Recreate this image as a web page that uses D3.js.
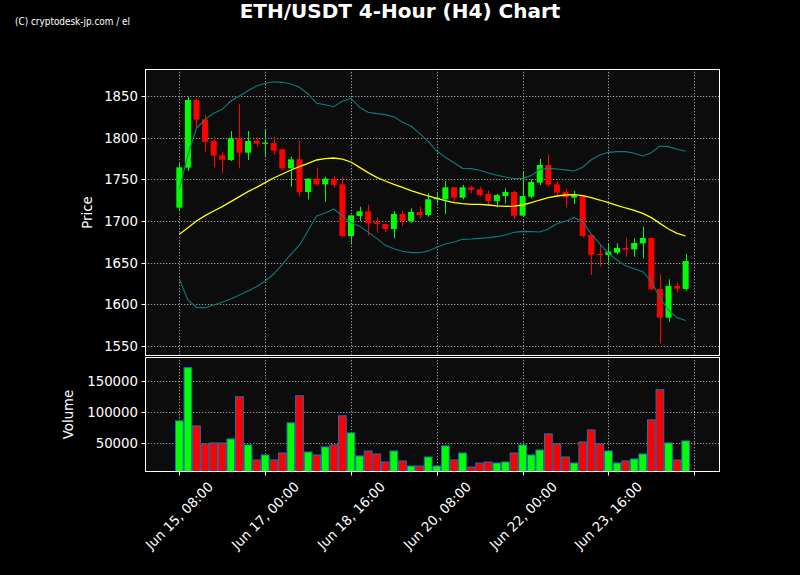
<!DOCTYPE html>
<html><head><meta charset="utf-8">
<script src="https://cdn.jsdelivr.net/npm/d3@7/dist/d3.min.js"></script>
<style>
html,body{margin:0;padding:0;background:#000;}
svg{display:block;}
text{font-family:"DejaVu Sans",sans-serif;fill:#fff;}
</style></head>
<body>
<svg id="chart" width="800" height="575"></svg>
<script>
const opens = [1716,1764,1845.2,1822,1796,1778.8,1773.2,1799.2,1782,1796.4,1793,1793.6,1786,1763.2,1774,1734.8,1750.8,1744,1750.8,1744,1682,1706,1711.6,1698.4,1696.4,1690.4,1708.4,1700,1710.8,1707.2,1726,1726,1740.4,1728,1740.4,1738,1732.4,1724,1730,1734.8,1706.4,1729.2,1746,1767.2,1744,1735.2,1728,1730,1683.2,1660.4,1659.2,1662,1667.6,1666,1673.2,1679.6,1618.4,1584,1622,1618.4];
const highs = [1769.2,1849.2,1847.2,1827.2,1801.2,1782.4,1808,1840.4,1808,1800.4,1810,1801.2,1786.8,1777.2,1796,1751.6,1764,1753.2,1754,1753.2,1706.8,1717.2,1719.6,1704,1696.4,1712,1712,1715.2,1717.2,1733.2,1733.2,1748,1740.4,1743.2,1742,1741.2,1736.4,1732.4,1739.2,1736,1760,1750,1774.4,1780,1748,1739.2,1736,1731.2,1683.2,1671.2,1672.4,1673.2,1680,1679.2,1693.2,1680.4,1636,1630,1626.4,1660.4];
const lows = [1712,1760,1811.2,1782.4,1764.4,1757.2,1772,1763.2,1773.2,1789.2,1778,1779.2,1761.2,1741.2,1729.2,1726,1742,1723.2,1740,1680,1672,1700,1682.8,1686,1686.8,1679.2,1694,1698,1703.2,1705.2,1721.2,1708.4,1723.2,1726,1733.2,1729.2,1719.2,1716.4,1721.2,1702,1706,1727.2,1743.2,1741.2,1731.2,1716.4,1720.4,1680.4,1635.2,1645.2,1649.2,1660,1657.2,1657.2,1655.2,1617.2,1553.2,1579.2,1614.4,1616.4];
const closes = [1764.4,1845.2,1821.6,1795.2,1778.4,1773.6,1799.2,1782,1796,1792.8,1794,1784.4,1763.2,1774,1734.8,1750.8,1744,1750.8,1743.2,1682,1706.8,1711.6,1697.6,1696.4,1690.4,1708.4,1700,1710.8,1707.2,1726,1728,1740.4,1728,1740.4,1737.2,1731.2,1724,1731.2,1734.8,1706.4,1730,1746.8,1767.2,1743.6,1734,1728.4,1730.8,1682,1659.6,1659.6,1663.2,1667.6,1665.6,1673.6,1679.6,1618,1584,1622,1618.8,1652];
const volumes = [85400,170600,77300,48400,50000,50000,56400,124000,46800,22700,30700,22700,33900,82200,125600,35500,30700,43600,46800,93400,66100,29100,37100,32300,19500,37100,21100,13000,13000,27500,13000,45200,22700,33900,11400,17800,19500,17800,19500,33900,46800,30700,38700,64500,48400,27500,17800,51600,70900,48400,37100,17800,21100,24300,32300,87000,135200,50000,22700,53200];
const smaValues = [1684,1692,1700,1706.4,1712,1717.2,1723.2,1729.2,1735.2,1740.4,1746,1751.6,1756.4,1761.2,1765.2,1769.2,1773.2,1774.8,1775.6,1774.2,1770.8,1764.4,1758,1752.4,1748,1744,1740.4,1736.4,1733.2,1730,1727.2,1724.4,1722,1720.8,1720,1720,1719.2,1718.2,1717.6,1717.8,1719.2,1722,1725.2,1728,1730,1731.2,1731.6,1730.4,1728,1725.2,1722,1718.8,1715.6,1712.8,1709.2,1704,1697.2,1690.4,1685.2,1682];
const upperBand = [1738,1779.2,1811.2,1822,1829.2,1834,1844,1850,1856.4,1862,1865.2,1867,1866.4,1864.4,1860.4,1852.4,1841.2,1839.6,1837.2,1843.6,1847.2,1836.4,1830.4,1828.8,1827.6,1825.2,1818.4,1814,1805.2,1795.2,1784,1776.4,1770,1763.2,1762.8,1760.8,1757.6,1755,1752.8,1751,1751.2,1754.5,1762,1763.2,1762.4,1761.4,1760,1764.6,1773.5,1779.2,1782.4,1783.2,1783.2,1781.2,1778,1782,1790,1789.2,1786,1783.6];
const lowerBand = [1630,1605.2,1596.4,1596,1599.2,1602.4,1606.4,1611.2,1616,1621.2,1628,1636.4,1648,1660,1671,1688.5,1706,1709.6,1714.4,1706.2,1698,1693.8,1686.6,1679.2,1670.8,1666.8,1663.6,1662,1662,1664,1668.4,1672.4,1674.8,1678,1678.4,1679.2,1680,1681.2,1683.2,1686.4,1687.6,1687.2,1686.8,1690.4,1696.8,1699.6,1704,1699.2,1684.2,1672.6,1661.2,1653.2,1646.2,1642.6,1639.2,1627.6,1607.6,1593.2,1583.8,1580.6];
const xTickIndex = [0,10,20,30,40,50,60];
const xTickLabels = ["Jun 15, 08:00","Jun 17, 00:00","Jun 18, 16:00","Jun 20, 08:00","Jun 22, 00:00","Jun 23, 16:00",""];
const priceTicks = [1550,1600,1650,1700,1750,1800,1850];
const volumeTicks = [50000,100000,150000];

const svg = d3.select("#chart");
const L = 145, R = 720, PT = 69, PB = 356, VT = 357, VB = 472;
const n = closes.length;
const x = d3.scaleLinear().domain([-4, n + 3]).range([L, R]);
const yP = d3.scaleLinear().domain([1538, 1882.4]).range([PB, PT]);
const yV = d3.scaleLinear().domain([0.3 * d3.min(volumes), 1.1 * d3.max(volumes)]).range([VB, VT]);
const GREEN = "#00ff00", RED = "#ff0000";
const idx = d3.range(n);
const col = i => closes[i] >= opens[i] ? GREEN : RED;

svg.append("rect").attr("width", 800).attr("height", 575).attr("fill", "#000");

const defs = svg.append("defs");
defs.append("clipPath").attr("id", "cp").append("rect").attr("x", L).attr("y", PT).attr("width", R - L).attr("height", PB - PT);
defs.append("clipPath").attr("id", "cv").append("rect").attr("x", L).attr("y", VT).attr("width", R - L).attr("height", VB - VT);

svg.append("rect").attr("x", L).attr("y", PT).attr("width", R - L).attr("height", PB - PT).attr("fill", "#0c0c0c");
svg.append("rect").attr("x", L).attr("y", VT).attr("width", R - L).attr("height", VB - VT).attr("fill", "#0c0c0c");

const gridStyle = s => s.attr("stroke", "#9a9a9a").attr("stroke-width", 1).attr("stroke-dasharray", "1.3,1.7").attr("fill", "none");

const gP = svg.append("g").attr("clip-path", "url(#cp)");
gP.selectAll("line.h").data(priceTicks).join("line").attr("x1", L).attr("x2", R)
  .attr("y1", d => Math.round(yP(d)) + 0.5).attr("y2", d => Math.round(yP(d)) + 0.5).call(gridStyle);
gP.selectAll("line.v").data(xTickIndex).join("line").attr("y1", PT).attr("y2", PB)
  .attr("x1", d => Math.round(x(d)) + 0.5).attr("x2", d => Math.round(x(d)) + 0.5).call(gridStyle);

gP.selectAll("line.wick").data(idx).join("line")
  .attr("x1", i => Math.round(x(i)) + 0.5).attr("x2", i => Math.round(x(i)) + 0.5)
  .attr("y1", i => yP(highs[i])).attr("y2", i => yP(lows[i]))
  .attr("stroke", col).attr("stroke-width", 1);
const bw = (x(1) - x(0)) * 0.7;
gP.selectAll("rect.body").data(idx).join("rect")
  .attr("x", i => x(i) - bw / 2).attr("width", bw)
  .attr("y", i => yP(Math.max(opens[i], closes[i])))
  .attr("height", i => Math.max(1.2, Math.abs(yP(opens[i]) - yP(closes[i]))))
  .attr("fill", col);

const line = arr => d3.line().x(i => x(i)).y(i => yP(arr[i]))(idx);
gP.append("path").attr("d", line(upperBand)).attr("fill", "none").attr("stroke", "#0e7c7b").attr("stroke-width", 1.1);
gP.append("path").attr("d", line(lowerBand)).attr("fill", "none").attr("stroke", "#0e7c7b").attr("stroke-width", 1.1);
gP.append("path").attr("d", line(smaValues)).attr("fill", "none").attr("stroke", "#ffff00").attr("stroke-width", 1.3);

const gV = svg.append("g").attr("clip-path", "url(#cv)");
gV.selectAll("line.h").data(volumeTicks).join("line").attr("x1", L).attr("x2", R)
  .attr("y1", d => Math.round(yV(d)) + 0.5).attr("y2", d => Math.round(yV(d)) + 0.5).call(gridStyle);
gV.selectAll("line.v").data(xTickIndex).join("line").attr("y1", VT).attr("y2", VB)
  .attr("x1", d => Math.round(x(d)) + 0.5).attr("x2", d => Math.round(x(d)) + 0.5).call(gridStyle);
const vw = (x(1) - x(0)) * 0.9;
gV.selectAll("rect.vol").data(idx).join("rect")
  .attr("x", i => x(i) - vw / 2).attr("width", vw)
  .attr("y", i => yV(volumes[i])).attr("height", i => VB + 5 - yV(volumes[i]))
  .attr("fill", col).attr("stroke", "#1f6fb0").attr("stroke-width", 1);

[[PT, PB], [VT, VB]].forEach(([t, b]) => {
  svg.append("rect").attr("x", L + 0.5).attr("y", t + 0.5).attr("width", R - L - 1).attr("height", b - t - 1)
    .attr("fill", "none").attr("stroke", "#fff").attr("stroke-width", 1);
});

const fs = 13.3;
priceTicks.forEach(v => {
  const yy = Math.round(yP(v)) + 0.5;
  svg.append("line").attr("x1", L - 3.5).attr("x2", L).attr("y1", yy).attr("y2", yy).attr("stroke", "#fff");
  svg.append("text").attr("x", L - 7).attr("y", yy).attr("text-anchor", "end").attr("dominant-baseline", "central")
    .attr("font-size", fs).text(v);
});
volumeTicks.forEach(v => {
  const yy = Math.round(yV(v)) + 0.5;
  svg.append("line").attr("x1", L - 3.5).attr("x2", L).attr("y1", yy).attr("y2", yy).attr("stroke", "#fff");
  svg.append("text").attr("x", L - 7).attr("y", yy).attr("text-anchor", "end").attr("dominant-baseline", "central")
    .attr("font-size", fs).text(v);
});

xTickIndex.forEach((t, k) => {
  const xx = Math.round(x(t)) + 0.5;
  svg.append("line").attr("x1", xx).attr("x2", xx).attr("y1", VB).attr("y2", VB + 3.5).attr("stroke", "#fff");
  if (xTickLabels[k]) {
    const tx = svg.append("text").attr("text-anchor", "middle").attr("dominant-baseline", "central")
      .attr("font-size", fs).text(xTickLabels[k]);
    const len = tx.node().getComputedTextLength();
    const half = (len + fs * 1.15) / (2 * Math.SQRT2);
    tx.attr("transform", `translate(${xx},${VB + 7 + half}) rotate(-45)`);
  }
});

svg.append("text").attr("transform", `translate(87,${(PT + PB) / 2}) rotate(-90)`).attr("text-anchor", "middle")
  .attr("dominant-baseline", "central").attr("font-size", fs).text("Price");
svg.append("text").attr("transform", `translate(68,${(VT + VB) / 2}) rotate(-90)`).attr("text-anchor", "middle")
  .attr("dominant-baseline", "central").attr("font-size", fs).text("Volume");

svg.append("text").attr("x", 400).attr("y", 18).attr("text-anchor", "middle").attr("font-size", 20)
  .attr("font-weight", "bold").text("ETH/USDT 4-Hour (H4) Chart");
svg.append("text").attr("x", 15).attr("y", 25).attr("font-size", 11)
  .attr("textLength", 115).attr("lengthAdjust", "spacingAndGlyphs")
  .text("(C) cryptodesk-jp.com / el");
</script>
</body></html>
